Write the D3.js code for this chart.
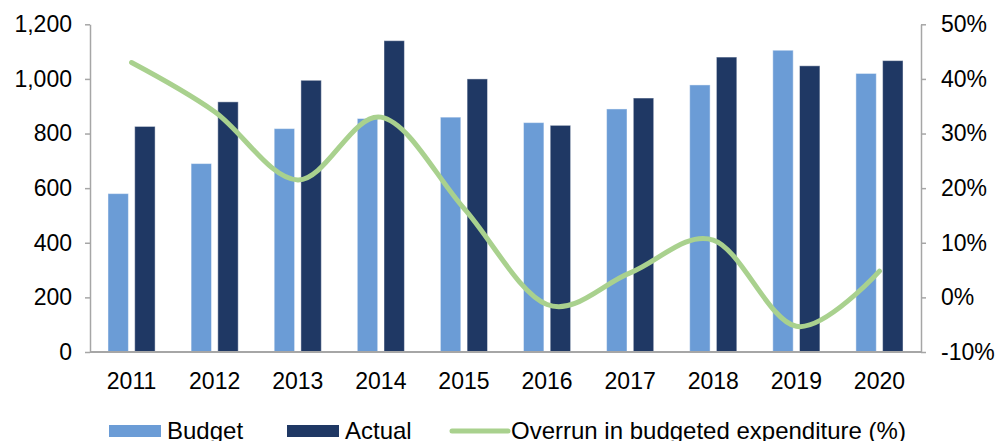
<!DOCTYPE html>
<html>
<head>
<meta charset="utf-8">
<script src="https://cdn.jsdelivr.net/npm/d3@7"></script>
<style>
  body { margin: 0; background: #fff; }
  text { font-family: "Liberation Sans", Arial, sans-serif; fill: #000; }
</style>
</head>
<body>
<script>
// data
const years = ["2011", "2012", "2013", "2014", "2015", "2016", "2017", "2018", "2019", "2020"];
const budget = [580, 690, 818, 855, 860, 840, 890, 978, 1105, 1020];
const actual = [826, 916, 995, 1140, 1000, 830, 930, 1080, 1048, 1067];
const overrun = [43, 34, 21.5, 33, 16.3, -1.3, 4.5, 10.5, -5.3, 4.8];
const leftTicks = [0, 200, 400, 600, 800, 1000, 1200];
const rightTicks = [-10, 0, 10, 20, 30, 40, 50];
const seriesNames = ["Budget", "Actual"];

const width = 997;
const height = 441;
const plotLeft = 90, plotRight = 921, plotTop = 24.3, plotBottom = 352;

const svg = d3.select("body")
    .append("svg")
    .attr("width", width)
    .attr("height", height);

// scales
const x0 = d3.scaleBand()
    .domain(years)
    .range([plotLeft, plotRight])
    .paddingInner(0.433)
    .paddingOuter(0.2165);

const x1 = d3.scaleBand()
    .domain(seriesNames)
    .range([0, x0.bandwidth()])
    .paddingInner(0.236);

const yLeft = d3.scaleLinear().domain([0, 1200]).range([plotBottom, plotTop]);
const yRight = d3.scaleLinear().domain([-10, 50]).range([plotBottom, plotTop]);

const colors = { Budget: "#6b9cd6", Actual: "#1f3864" };

// bars
const groups = svg.selectAll("g.year")
    .data(years)
    .enter()
    .append("g")
    .attr("class", "year")
    .attr("transform", d => "translate(" + x0(d) + ",0)");

groups.selectAll("rect")
    .data((d, i) => [{ k: "Budget", v: budget[i] }, { k: "Actual", v: actual[i] }])
    .enter()
    .append("rect")
    .attr("x", d => x1(d.k))
    .attr("y", d => yLeft(d.v))
    .attr("width", x1.bandwidth())
    .attr("height", d => plotBottom - yLeft(d.v))
    .attr("fill", d => colors[d.k])
    .attr("stroke", "rgba(255,255,255,0.45)")
    .attr("stroke-width", 1);

// line
const line = d3.line()
    .x((d, i) => x0(years[i]) + x0.bandwidth() / 2)
    .y(d => yRight(d))
    .curve(d3.curveCardinal.tension(0));

svg.append("path")
    .datum(overrun)
    .attr("d", line)
    .attr("fill", "none")
    .attr("stroke", "#a9d18e")
    .attr("stroke-width", 5)
    .attr("stroke-linecap", "round");

// axes
const fmt = d3.format(",");
const leftAxis = d3.axisLeft(yLeft).tickValues(leftTicks).tickFormat(fmt).tickSizeInner(5).tickSizeOuter(0).tickPadding(13);
const rightAxis = d3.axisRight(yRight).tickValues(rightTicks).tickFormat(d => d + "%").tickSizeInner(5).tickSizeOuter(0).tickPadding(15);
const bottomAxis = d3.axisBottom(x0).tickSize(0).tickPadding(0);

function styleAxis(g) {
    g.select(".domain").attr("stroke", "#a6a6a6").attr("stroke-width", 1.5);
    g.selectAll(".tick line").attr("stroke", "#a6a6a6").attr("stroke-width", 1.5);
    g.selectAll(".tick text").attr("font-size", 23).attr("fill", "#000");
    g.attr("font-family", null);
}

svg.append("g")
    .attr("transform", "translate(" + plotLeft + ",0)")
    .call(leftAxis)
    .call(styleAxis);

svg.append("g")
    .attr("transform", "translate(" + plotRight + ",0)")
    .call(rightAxis)
    .call(styleAxis);

const xg = svg.append("g")
    .attr("transform", "translate(0," + plotBottom + ")")
    .call(bottomAxis)
    .call(styleAxis);
xg.select(".domain").attr("stroke-width", 2).attr("d", "M" + plotLeft + ",0H" + plotRight);
xg.selectAll(".tick text").attr("dy", null).attr("y", 37);

// legend
const legend = svg.append("g");
const legendItems = [
    { name: "Budget", type: "rect", x: 109, color: colors.Budget },
    { name: "Actual", type: "rect", x: 287, color: colors.Actual },
    { name: "Overrun in budgeted expenditure (%)", type: "line", x: 452, color: "#a9d18e" }
];
legendItems.forEach(d => {
    if (d.type === "rect") {
        legend.append("rect").attr("x", d.x).attr("y", 425).attr("width", 52).attr("height", 12).attr("fill", d.color);
        legend.append("text").attr("x", d.x + 58).attr("y", 439).attr("font-size", 24).text(d.name);
    } else {
        legend.append("line").attr("x1", d.x).attr("x2", d.x + 56).attr("y1", 431).attr("y2", 431)
            .attr("stroke", d.color).attr("stroke-width", 5).attr("stroke-linecap", "round");
        legend.append("text").attr("x", d.x + 59).attr("y", 439).attr("font-size", 24).text(d.name);
    }
});
</script>
</body>
</html>
